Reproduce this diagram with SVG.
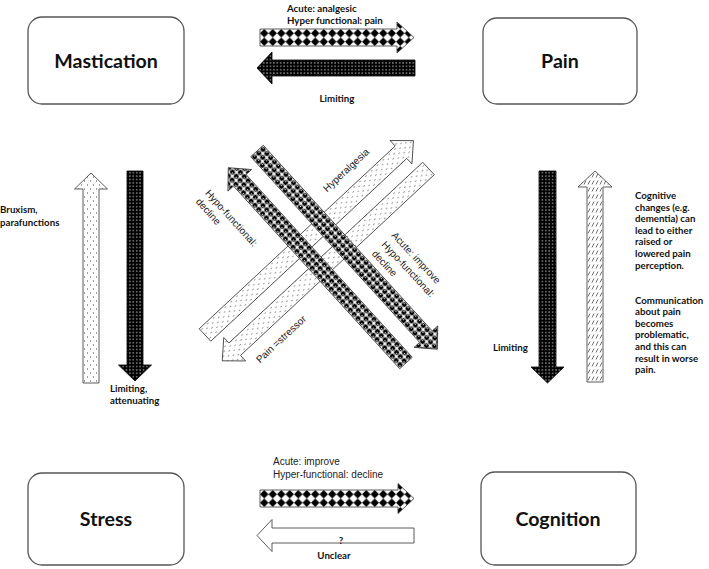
<svg xmlns="http://www.w3.org/2000/svg" width="709" height="569" viewBox="0 0 709 569">
<defs>
<style>
.node{fill:#fff;stroke:#555;stroke-width:1.3}
.ntxt{font-family:Lato,"Liberation Sans",sans-serif;font-weight:bold;font-size:19.6px;fill:#111;text-anchor:middle}
.blab{font-family:Lato,"Liberation Sans",sans-serif;font-weight:bold;font-size:9.7px;fill:#111}
.rlab{font-family:"Liberation Sans",Arial,sans-serif;font-size:10px;fill:#222}
.arr{stroke:#333;stroke-width:0.8}
.darr{stroke:#000;stroke-width:0.8}
</style>
<pattern id="diam" x="0" y="-8.5" width="8.5" height="8.5" patternUnits="userSpaceOnUse">
<rect width="8.5" height="8.5" fill="#fff"/>
<polygon points="4.25,0 8.5,4.25 4.25,8.5 0,4.25" fill="#000"/>
</pattern>
<pattern id="bdots" x="0" y="0" width="3.4" height="3.4" patternUnits="userSpaceOnUse">
<rect width="3.4" height="3.4" fill="#000"/>
<circle cx="1.7" cy="1.7" r="0.65" fill="#fff"/>
</pattern>
<pattern id="wdots" x="0" y="-8" width="8" height="6" patternUnits="userSpaceOnUse">
<rect width="8" height="6" fill="#fff"/>
<circle cx="2" cy="1.5" r="0.55" fill="#222"/>
<circle cx="6" cy="4.5" r="0.55" fill="#222"/>
</pattern>
<pattern id="hatch" x="0" y="-8" width="7" height="4" patternUnits="userSpaceOnUse">
<rect width="7" height="4" fill="#fff"/>
<line x1="1.5" y1="1" x2="5.5" y2="3" stroke="#333" stroke-width="0.7"/>
</pattern>
<pattern id="balls" x="0" y="-8.5" width="5.67" height="5.67" patternUnits="userSpaceOnUse">
<rect width="5.67" height="5.67" fill="#f4f4f4"/>
<circle cx="2.83" cy="2.83" r="2.45" fill="#000"/>
<circle cx="2.1" cy="2.1" r="0.75" fill="#fff"/>
</pattern>
</defs>
<rect width="709" height="569" fill="#fff"/>

<g id="mastication">
<rect class="node" x="28" y="17" width="156" height="87" rx="14"/>
<text class="ntxt" x="106" y="68">Mastication</text>
</g>
<g id="pain">
<rect class="node" x="483" y="18" width="154" height="86" rx="14"/>
<text class="ntxt" x="560" y="68">Pain</text>
</g>
<g id="stress">
<rect class="node" x="28" y="473" width="156" height="92" rx="14"/>
<text class="ntxt" x="106" y="526">Stress</text>
</g>
<g id="cognition">
<rect class="node" x="481" y="472" width="155" height="93" rx="14"/>
<text class="ntxt" x="558" y="526">Cognition</text>
</g>

<g id="connectors">
<g transform="translate(260,37.5)">
<polygon class="arr" fill="url(#diam)" points="0,-8.5 137,-8.5 137,-15.5 154,0 137,15.5 137,8.5 0,8.5"/>
</g>
<g transform="translate(415,68) rotate(180)">
<polygon class="darr" fill="url(#bdots)" points="0,-8 143,-8 143,-16 158,0 143,16 143,8 0,8"/>
</g>
<g transform="translate(260,498.5)">
<polygon class="arr" fill="url(#diam)" points="0,-8.5 138,-8.5 138,-15 154,0 138,15 138,8.5 0,8.5"/>
</g>
<g transform="translate(414,535.5) rotate(180)">
<polygon class="arr" fill="#fff" points="0,-7.5 142,-7.5 142,-16 157,0 142,16 142,7.5 0,7.5"/>
</g>
<g transform="translate(91,383) rotate(-90)">
<polygon class="arr" fill="url(#wdots)" points="0,-8 194,-8 194,-16.5 210,0 194,16.5 194,8 0,8"/>
</g>
<g transform="translate(135,171) rotate(90)">
<polygon class="darr" fill="url(#bdots)" points="0,-8 194,-8 194,-16.5 210,0 194,16.5 194,8 0,8"/>
</g>
<g transform="translate(547.5,171) rotate(90)">
<polygon class="darr" fill="url(#bdots)" points="0,-8.5 196,-8.5 196,-16.5 212,0 196,16.5 196,8.5 0,8.5"/>
</g>
<g transform="translate(595,382) rotate(-90)">
<polygon class="arr" fill="url(#hatch)" points="0,-8 195,-8 195,-17 211,0 195,17 195,8 0,8"/>
</g>
<g transform="translate(205,335) rotate(-43)">
<polygon class="arr" fill="url(#wdots)" points="0,-8.5 268,-8.5 268,-16 285,0 268,16 268,8.5 0,8.5"/>
</g>
<g transform="translate(428.5,168.5) rotate(137)">
<polygon class="arr" fill="url(#wdots)" points="0,-8.5 265,-8.5 265,-16 282,0 265,16 265,8.5 0,8.5"/>
</g>
<g transform="translate(406,363) rotate(-132.3)">
<polygon class="arr" fill="url(#balls)" points="0,-8.5 247,-8.5 247,-16 264,0 247,16 247,8.5 0,8.5"/>
</g>
<g transform="translate(257,151) rotate(47.7)">
<polygon class="arr" fill="url(#balls)" points="0,-8.5 251,-8.5 251,-16 268,0 251,16 251,8.5 0,8.5"/>
</g>
</g>

<g id="labels">
<text class="blab" x="287" y="12">Acute: analgesic</text>
<text class="blab" x="287" y="24">Hyper functional: pain</text>
<text class="blab" x="337" y="102" text-anchor="middle">Limiting</text>

<text class="rlab" x="273" y="465" font-size="10.5">Acute: improve</text>
<text class="rlab" x="273" y="478" font-size="10.5">Hyper-functional: decline</text>
<text class="blab" x="341" y="544" text-anchor="middle" font-size="11">?</text>
<text class="blab" x="334" y="559" text-anchor="middle">Unclear</text>

<text class="blab" x="0" y="213">Bruxism,</text>
<text class="blab" x="0" y="226">parafunctions</text>
<text class="blab" x="110" y="392">Limiting,</text>
<text class="blab" x="110" y="404">attenuating</text>

<text class="blab" x="493" y="351">Limiting</text>
<text class="blab" x="635" y="199">Cognitive</text>
<text class="blab" x="635" y="210.6">changes (e.g.</text>
<text class="blab" x="635" y="222.2">dementia) can</text>
<text class="blab" x="635" y="233.8">lead to either</text>
<text class="blab" x="635" y="245.4">raised or</text>
<text class="blab" x="635" y="257">lowered pain</text>
<text class="blab" x="635" y="268.6">perception.</text>
<text class="blab" x="635" y="303.5">Communication</text>
<text class="blab" x="635" y="315.1">about pain</text>
<text class="blab" x="635" y="326.7">becomes</text>
<text class="blab" x="635" y="338.3">problematic,</text>
<text class="blab" x="635" y="349.9">and this can</text>
<text class="blab" x="635" y="361.5">result in worse</text>
<text class="blab" x="635" y="373.1">pain.</text>

<text class="rlab" transform="translate(346,170) rotate(-43)" y="3.5" text-anchor="middle">Hyperalgesia</text>
<text class="rlab" transform="translate(281,339) rotate(-43)" y="3.5" text-anchor="middle">Pain =stressor</text>
<g transform="translate(204.7,193.5) rotate(48)">
<text class="rlab" x="0" y="0">Hypo-functional:</text>
<text class="rlab" x="0" y="12.7">decline</text>
</g>
<g transform="translate(390.9,235.8) rotate(47)">
<text class="rlab" x="0" y="0">Acute: improve</text>
<text class="rlab" x="0" y="13.5">Hypo-functional:</text>
<text class="rlab" x="0" y="27">decline</text>
</g>
</g>
</svg>
